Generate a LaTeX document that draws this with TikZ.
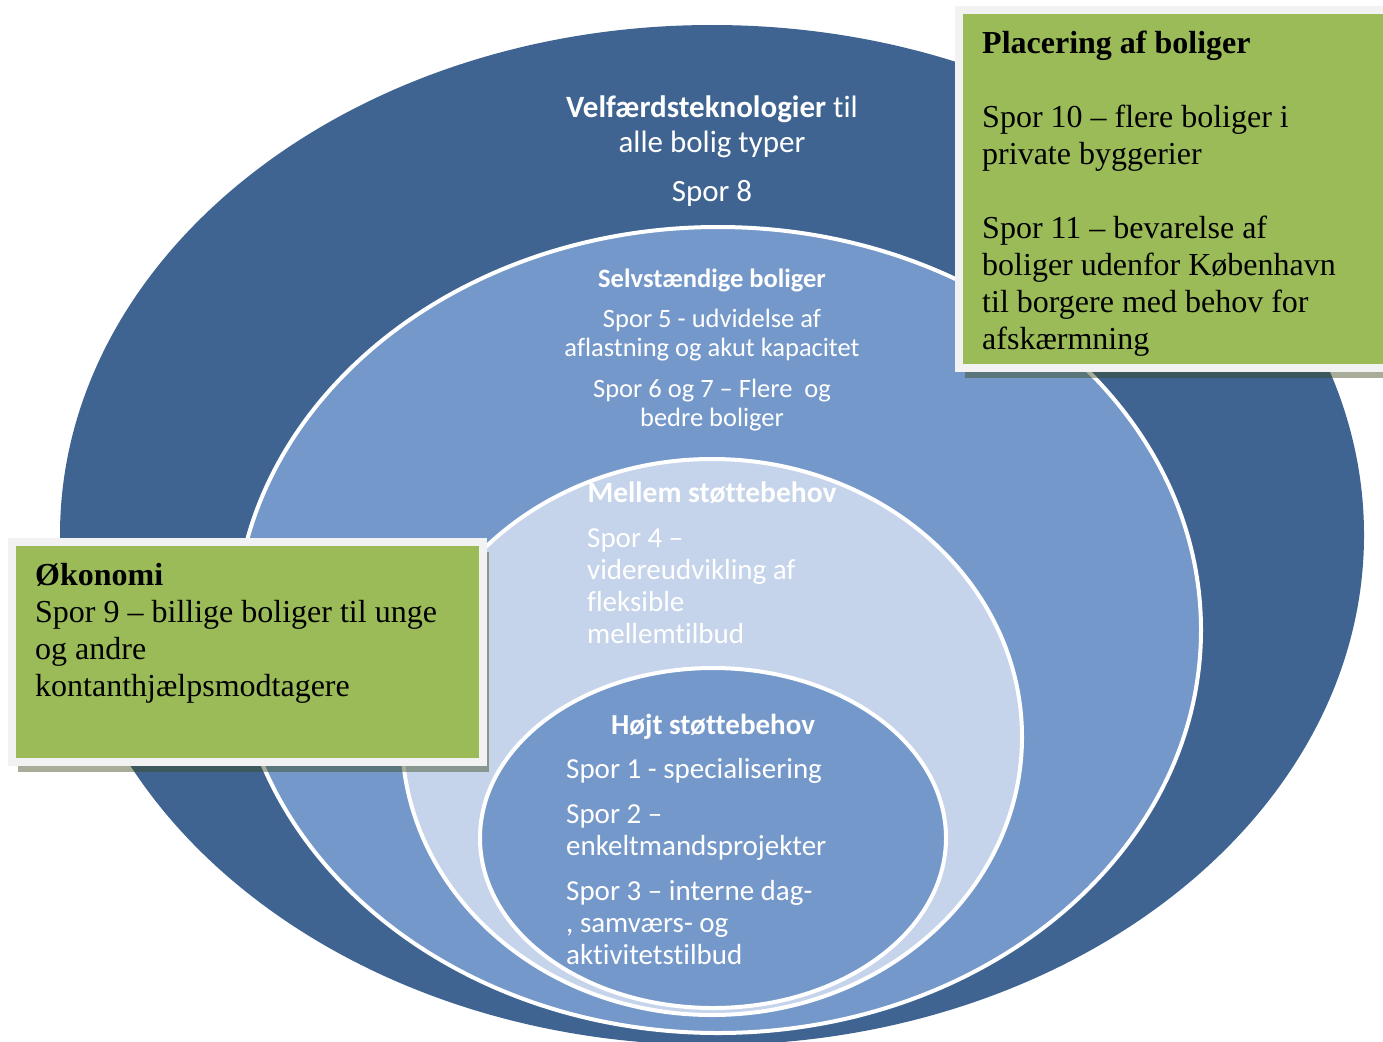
\documentclass[tikz,border=0pt]{standalone}
\usepackage{fontspec}
\setmainfont{Liberation Serif}
\newfontfamily\calibri[Ligatures=NoCommon]{Carlito}
\usetikzlibrary{shapes.geometric}
\usetikzlibrary{shadows}

\definecolor{darkring}{HTML}{3F6491}
\definecolor{midring}{HTML}{7598CA}
\definecolor{lightring}{HTML}{C5D4EA}
\definecolor{boxgreen}{HTML}{9BBB59}
\definecolor{boxframe}{HTML}{F2F2F2}
\definecolor{boxshadow}{RGB}{60,75,30}

\begin{document}
\begin{tikzpicture}[x=1pt,y=-1pt,
            ring node/.style={ellipse,inner sep=0pt,draw=white,line width=4pt},
            ring text/.style={text=white,inner sep=0pt},
            green box/.style={rectangle,fill=boxgreen,draw=boxframe,line width=8pt,inner sep=0pt,
              drop shadow={shadow xshift=6pt,shadow yshift=-10pt,fill=boxshadow,opacity=0.45}},
            box text/.style={font=\fontsize{32}{37}\selectfont,align=left,inner sep=0pt,anchor=base west},
            ]

            \useasboundingbox (0,0) rectangle (1383,1041);
            \clip (0,0) rectangle (1383,1041);
            \fill[white] (0,0) rectangle (1383,1041);

            \node[ring node, draw=none, fill=darkring, minimum width=1304pt, minimum height=1020pt] (velfaerd) at (712,535) {};
            \node[ring node, fill=midring, minimum width=966pt, minimum height=806pt] (selvst) at (718,630) {};
            \node[ring node, fill=lightring, minimum width=620pt, minimum height=556pt] (mellem) at (712,737) {};
            \node[ring node, fill=midring, minimum width=466pt, minimum height=340pt] (hojt) at (713,838) {};

            \node[ring text, align=center, anchor=base, font=\calibri\fontsize{31}{35}\selectfont] (velfaerdtxt) at (712,201)
              {\textbf{Velfærdsteknologier} til\\alle bolig typer\\[14pt]Spor 8};
            \node[ring text, align=center, anchor=base, font=\calibri\fontsize{26.5}{29}\selectfont] (selvsttxt) at (712,426)
              {\textbf{Selvstændige boliger}\\[11pt]Spor 5 - udvidelse af\\aflastning og akut kapacitet\\[12pt]Spor 6 og 7 – Flere\ \ og\\bedre boliger};
            \node[ring text, anchor=base, font=\calibri\bfseries\fontsize{29.5}{32}\selectfont] (mellemhead) at (712,502) {Mellem støttebehov};
            \node[ring text, align=left, anchor=base west, font=\calibri\fontsize{29}{32}\selectfont] (mellemtxt) at (587,643)
              {Spor 4 –\\videreudvikling af\\fleksible\\mellemtilbud};
            \node[ring text, anchor=base, font=\calibri\bfseries\fontsize{29}{32}\selectfont] (hojthead) at (713,734) {Højt støttebehov};
            \node[ring text, align=left, anchor=base west, font=\calibri\fontsize{29}{32}\selectfont] (hojttxt) at (566,964)
              {Spor 1 - specialisering\\[13pt]Spor 2 –\\enkeltmandsprojekter\\[13pt]Spor 3 – interne dag-\\, samværs- og\\aktivitetstilbud};

            \node[green box, minimum width=471pt, minimum height=220pt] (okonomi) at (247.5,652) {};
            \node[box text] (okonomitxt) at (35,696)
              {\textbf{Økonomi}\\Spor 9 – billige boliger til unge\\og andre\\kontanthjælpsmodtagere};

            \node[green box, minimum width=429pt, minimum height=358pt] (placering) at (1173.5,189) {};
            \node[box text] (placeringtxt) at (982,349)
              {\textbf{Placering af boliger}\\[37pt]Spor 10 – flere boliger i\\private byggerier\\[37pt]Spor 11 – bevarelse af\\boliger udenfor København\\til borgere med behov for\\afskærmning};
        \end{tikzpicture}
\end{document}
